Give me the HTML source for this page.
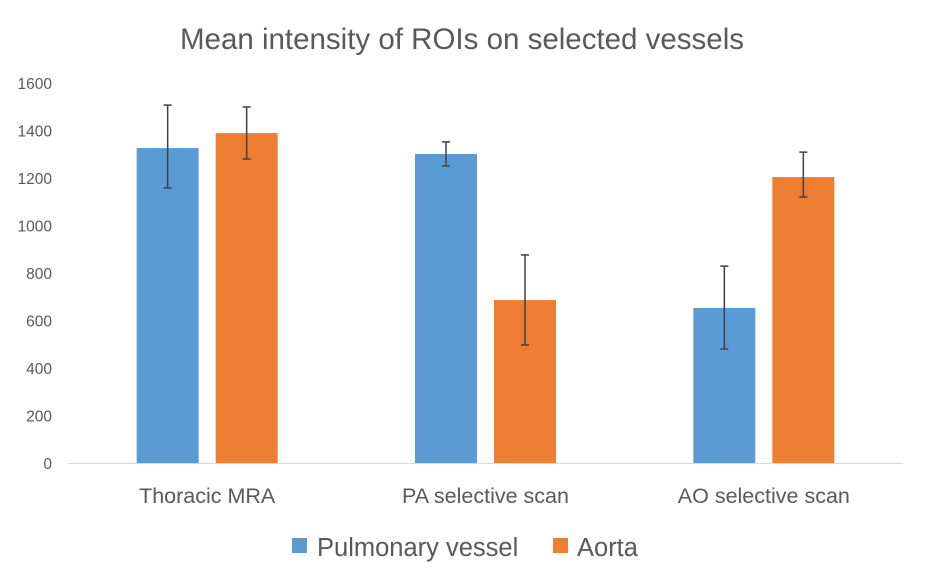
<!DOCTYPE html>
<html><head><meta charset="utf-8"><style>
html,body{margin:0;padding:0;background:#fff;}
svg{display:block;font-family:"Liberation Sans",sans-serif;}
</style></head><body>
<svg id="chart" width="925" height="584">
<text x="462" y="49" text-anchor="middle" font-size="29.5" fill="#595959">Mean intensity of ROIs on selected vessels</text>
<g id="axes"></g><g id="bars"></g>
<g>
<rect x="292" y="538" width="15" height="15" fill="#5b9bd5"/>
<text x="317" y="556" font-size="25.5" fill="#595959">Pulmonary vessel</text>
<rect x="553" y="538" width="15" height="15" fill="#ed7d31"/>
<text x="577" y="556" font-size="25.5" fill="#595959">Aorta</text>
</g>
</svg>
<script>
const categories=["Thoracic MRA","PA selective scan","AO selective scan"];
const pulmonary=[1326,1301,653];
const pulmonaryHigh=[1507,1352,829];
const pulmonaryLow=[1158,1251,480];
const aorta=[1389,686,1204];
const aortaHigh=[1499,876,1309];
const aortaLow=[1280,497,1120];
const ticks=[0,200,400,600,800,1000,1200,1400,1600];
const NS="http://www.w3.org/2000/svg";
const x0=68,x1=903,yBase=463,yTop=83,maxV=1600;
const y=v=>yBase-(v/maxV)*(yBase-yTop);
const catW=(x1-x0)/categories.length;
const cx=i=>x0+catW*(i+0.5);
function mk(t,a,p){const e=document.createElementNS(NS,t);for(const k in a)e.setAttribute(k,a[k]);p.appendChild(e);return e;}
const axes=document.getElementById('axes'),bars=document.getElementById('bars');
ticks.forEach(t=>{const e=mk('text',{x:52,y:y(t)+6,'text-anchor':'end','font-size':'15.5',fill:'#595959'},axes);
e.textContent=t;

});
const ax=mk('line',{x1:x0,x2:x1,y1:yBase+0.5,y2:yBase+0.5,stroke:'#d9d9d9','stroke-width':1},axes);


categories.forEach((c,i)=>{const e=mk('text',{x:cx(i),y:503,'text-anchor':'middle','font-size':'21.5',fill:'#595959'},axes);
e.textContent=c;

});
const bw=62,gap=17;
function series(vals,hi,lo,color,off,name){vals.forEach((v,i)=>{const bx=cx(i)+off;
const r=mk('rect',{x:bx-bw/2,y:y(v),width:bw,height:yBase-y(v),fill:color},bars);


const g=mk('g',{stroke:'#404040','stroke-width':1.5},bars);


mk('line',{x1:bx,x2:bx,y1:y(hi[i]),y2:y(lo[i])},g);
mk('line',{x1:bx-4,x2:bx+4,y1:y(hi[i]),y2:y(hi[i])},g);
mk('line',{x1:bx-4,x2:bx+4,y1:y(lo[i]),y2:y(lo[i])},g);});}
series(pulmonary,pulmonaryHigh,pulmonaryLow,'#5b9bd5',-(bw+gap)/2,'pulmonary');
series(aorta,aortaHigh,aortaLow,'#ed7d31',(bw+gap)/2,'aorta');
</script>
</body></html>
